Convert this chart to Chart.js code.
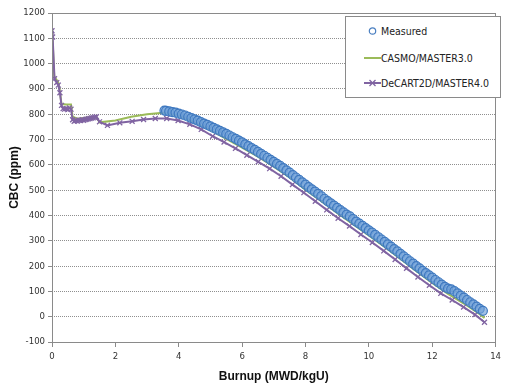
<!DOCTYPE html>
<html>
<head>
<meta charset="utf-8">
<script src="https://cdn.jsdelivr.net/npm/chart.js@4.4.1/dist/chart.umd.min.js"></script>
<style>
  html, body { margin: 0; padding: 0; background: #fff; }
  #wrap { position: relative; width: 505px; height: 387px; }
  #legend { position: absolute; left: 345px; top: 16px; width: 154px; height: 80px; border: 1px solid #8a8a8a; background: #fff;
    font-family: "DejaVu Sans Condensed", "Liberation Sans Narrow", sans-serif; font-size: 10.5px; color: #222; }
  .item { position: absolute; left: 18px; height: 14px; line-height: 14px; white-space: nowrap; }
  .item svg { position: absolute; left: 0; top: 0; }
  .item span { position: absolute; left: 17px; top: 0; }
</style>
</head>
<body>
<div id="wrap">
  <canvas id="c" width="505" height="387"></canvas>
  <div id="legend">
    <div class="item" style="top:7px"><svg width="17" height="14"><circle cx="8.5" cy="7" r="3.2" fill="#fff" stroke="#4a7fc1" stroke-width="1.2"/></svg><span>Measured</span></div>
    <div class="item" style="top:34px"><svg width="17" height="14"><line x1="0" y1="7" x2="17" y2="7" stroke="#9bbb59" stroke-width="2"/></svg><span>CASMO/MASTER3.0</span></div>
    <div class="item" style="top:59px"><svg width="17" height="14"><line x1="0" y1="7" x2="17" y2="7" stroke="#8064a2" stroke-width="2"/><path d="M5.5 4 L11.5 10 M11.5 4 L5.5 10" stroke="#8064a2" stroke-width="1.3"/></svg><span>DeCART2D/MASTER4.0</span></div>
  </div>
</div>
<script>
// ---- data ----
const measuredX = [3.55,3.6,3.7,3.8,3.9,4.0,4.1,4.2,4.3,4.4,4.5,4.6,4.7,4.8,4.9,5.0,5.1,5.2,5.3,5.4,5.5,5.6,5.7,5.8,5.9,6.0,6.1,6.2,6.3,6.4,6.5,6.6,6.7,6.8,6.9,7.0,7.1,7.2,7.3,7.4,7.5,7.6,7.7,7.8,7.9,8.0,8.1,8.2,8.3,8.4,8.5,8.6,8.7,8.8,8.9,9.0,9.1,9.2,9.3,9.4,9.5,9.6,9.7,9.8,9.9,10.0,10.1,10.2,10.3,10.4,10.5,10.6,10.7,10.8,10.9,11.0,11.1,11.2,11.3,11.4,11.5,11.6,11.7,11.8,11.9,12.0,12.1,12.2,12.3,12.4,12.5,12.6,12.7,12.8,12.9,13.0,13.1,13.2,13.3,13.4,13.5,13.6];
const measuredY = [814,813,811,808,806,802,799,795,790,785,780,775,769,763,758,752,746,740,734,728,722,716,709,703,696,689,681,674,666,659,651,643,636,628,620,612,604,596,587,578,569,559,550,541,531,522,512,503,494,485,476,466,457,448,439,430,421,412,403,396,386,376,368,359,350,341,332,323,314,305,296,286,277,267,258,248,238,229,219,210,200,191,181,172,163,154,145,136,127,118,111,108,101,92,83,75,66,57,49,40,31,23];

const casmoX = [0,0.07,0.15,0.2,0.25,0.3,0.45,0.6,0.65,0.8,1.0,1.2,1.4,1.5,2.0,2.5,3.0,3.5,4.0,4.5,5.0,5.5,6.0,6.5,7.0,7.5,8.0,8.5,9.0,9.5,10.0,10.5,11.0,11.5,12.0,12.5,13.0,13.5,13.65];
const casmoY = [1145,950,935,925,890,840,838,838,790,782,785,788,790,768,775,790,800,806,793,768,737,703,668,632,593,550,502,456,410,366,321,276,228,180,133,90,52,10,-5];

const decartX = [0,0.02,0.08,0.15,0.2,0.25,0.3,0.35,0.4,0.45,0.5,0.55,0.6,0.65,0.7,0.75,0.8,0.85,0.9,0.95,1.0,1.05,1.1,1.15,1.2,1.25,1.3,1.35,1.4,1.5,1.75,2.14,2.53,2.89,3.26,3.62,3.98,4.35,4.71,5.07,5.43,5.79,6.15,6.51,6.87,7.23,7.59,7.95,8.31,8.67,9.03,9.39,9.75,10.11,10.47,10.83,11.19,11.55,11.91,12.27,12.63,12.99,13.35,13.65];
const decartY = [1130,1105,940,925,915,885,835,822,820,822,818,825,820,778,772,775,773,776,775,778,776,779,780,782,783,785,786,788,790,770,756,766,772,779,783,783,775,760,740,713,690,665,638,612,585,555,522,490,456,422,389,358,325,293,260,226,191,157,124,92,66,38,8,-22];

const xTicks = [0,2,4,6,8,10,12,14];
const yTicks = [-100,0,100,200,300,400,500,600,700,800,900,1000,1100,1200];

const pts = (xs, ys) => xs.map((x, i) => ({x: x, y: ys[i]}));
const tickFont = { family: "'DejaVu Sans Condensed', 'Liberation Sans Narrow', sans-serif", size: 9.5 };
const titleFont = { family: "'Liberation Sans', Arial, sans-serif", size: 12, weight: 'bold' };

const frame = {
  id: 'frame',
  afterDraw(chart) {
    const a = chart.chartArea, ctx = chart.ctx;
    ctx.save();
    ctx.strokeStyle = '#8a8a8a';
    ctx.lineWidth = 1;
    ctx.setLineDash([]);
    ctx.strokeRect(Math.round(a.left) + 0.5, Math.round(a.top) + 0.5, Math.round(a.right - a.left) - 1, Math.round(a.bottom - a.top));
    ctx.restore();
  }
};

new Chart(document.getElementById('c'), {
  type: 'scatter',
  data: {
    datasets: [
      { label: 'Measured', data: pts(measuredX, measuredY), showLine: false, pointStyle: 'circle', pointRadius: 4.5,
        pointBorderWidth: 1.2, borderColor: '#3f79c0', backgroundColor: 'rgba(110,160,215,0.65)', order: 0 },
      { label: 'CASMO/MASTER3.0', data: pts(casmoX, casmoY), showLine: true, borderColor: '#9bbb59', borderWidth: 2,
        pointRadius: 0, tension: 0, order: 2 },
      { label: 'DeCART2D/MASTER4.0', data: pts(decartX, decartY), showLine: true, borderColor: '#8064a2', backgroundColor: '#8064a2',
        borderWidth: 2, pointStyle: 'crossRot', pointRadius: 3.5, pointBorderWidth: 1.3, tension: 0, order: 1 }
    ]
  },
  options: {
    responsive: false,
    animation: false,
    devicePixelRatio: 1,
    layout: { padding: { top: 13, right: 3, left: 0, bottom: 0 } },
    plugins: { legend: { display: false }, tooltip: { enabled: false } },
    scales: {
      x: {
        type: 'linear', min: 0, max: 14,
        afterBuildTicks: s => { s.ticks = xTicks.map(v => ({value: v})); },
        afterFit: s => { s.height = 45; },
        grid: { drawOnChartArea: false, drawTicks: true, tickLength: 5, color: '#8a8a8a' },
        border: { display: false },
        ticks: { font: tickFont, color: '#333', padding: 4, maxRotation: 0, callback: v => String(v) },
        title: { display: true, text: 'Burnup (MWD/kgU)', font: titleFont, color: '#111', padding: { top: 2, bottom: 3 } }
      },
      y: {
        type: 'linear', min: -100, max: 1200,
        afterBuildTicks: s => { s.ticks = yTicks.map(v => ({value: v})); },
        afterFit: s => { s.width = 52; },
        grid: { color: '#8f8f8f', lineWidth: 1, drawTicks: true, tickLength: 4, tickColor: '#8a8a8a' },
        border: { display: false, dash: [1, 1] },
        ticks: { font: tickFont, color: '#333', padding: 3, callback: v => String(v) },
        title: { display: true, text: 'CBC (ppm)', font: titleFont, color: '#111', padding: { top: 7, bottom: 0 } }
      }
    }
  },
  plugins: [frame]
});
</script>
</body>
</html>
